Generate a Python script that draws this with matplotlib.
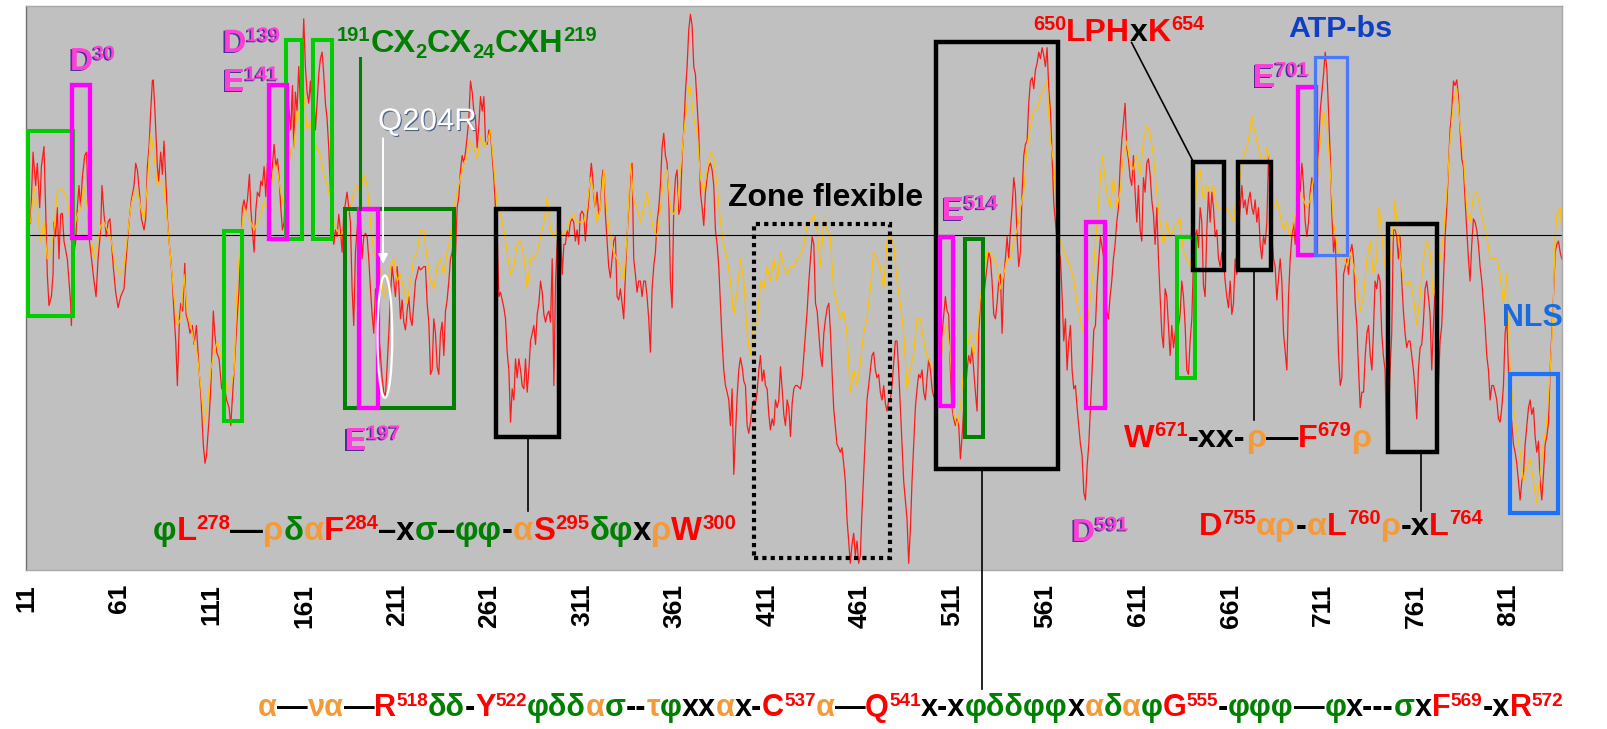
import matplotlib
matplotlib.use("Agg")
import matplotlib.pyplot as plt
import matplotlib.patheffects as pe
from matplotlib.patches import Rectangle, Ellipse
from matplotlib.transforms import IdentityTransform

plt.rcParams['font.family'] = ['Liberation Sans', 'DejaVu Sans']

# hydrophobicity profile, red curve (residue number, score)
red_pos = [
    12.5, 13.4, 14.7, 16.1, 17.0, 18.3, 19.2, 20.6, 21.5, 22.4,
    23.3, 24.6, 25.5, 26.0, 26.9, 27.8, 28.7, 29.6, 30.5, 31.4,
    33.2, 35.0, 35.4, 36.4, 37.7, 38.6, 39.5, 40.4, 41.3, 42.6,
    43.6, 44.9, 46.7, 47.6, 48.7, 49.8, 51.2, 51.9, 53.0, 54.3,
    55.2, 56.2, 57.0, 58.0, 59.3, 60.6, 62.0, 63.8, 65.2, 66.5,
    67.8, 69.2, 70.1, 71.0, 72.1, 73.2, 74.6, 75.5, 76.4, 77.3,
    78.2, 79.1, 79.6, 80.5, 81.8, 82.5, 83.6, 84.5, 85.4, 86.5,
    87.2, 88.1, 89.0, 89.9, 90.8, 91.7, 92.6, 93.7, 94.4, 95.5,
    96.6, 97.3, 98.4, 99.4, 100.7, 101.6, 102.9, 104.3, 105.2, 106.6,
    107.5, 108.3, 109.7, 110.6, 112.0, 112.8, 113.8, 115.1, 116.5, 117.8,
    119.2, 120.5, 121.4, 123.2, 125.0, 125.9, 126.8, 127.7, 128.6, 129.5,
    130.4, 131.5, 132.2, 133.1, 134.0, 134.9, 135.8, 136.9, 137.6, 138.5,
    139.4, 140.3, 141.2, 142.1, 143.0, 144.8, 145.7, 146.6, 147.5, 148.4,
    149.3, 150.2, 151.1, 152.0, 152.9, 153.8, 154.7, 155.4, 156.3, 157.2,
    158.1, 159.0, 159.9, 160.8, 161.7, 162.6, 163.5, 164.4, 165.3, 166.2,
    167.1, 168.0, 168.9, 169.8, 170.7, 171.6, 172.5, 173.4, 174.3, 175.2,
    176.1, 177.0, 177.9, 178.8, 179.7, 180.6, 181.5, 182.4, 183.3, 184.2,
    185.1, 186.0, 186.9, 187.8, 188.7, 189.6, 190.5, 191.4, 192.3, 193.2,
    194.1, 195.0, 195.9, 196.8, 197.7, 198.6, 199.5, 200.4, 201.3, 202.2,
    203.1, 204.0, 204.9, 205.8, 206.7, 207.6, 208.5, 209.4, 210.3, 211.2,
    212.1, 213.0, 213.9, 214.8, 215.7, 216.6, 217.5, 218.4, 219.3, 220.2,
    221.1, 222.0, 222.9, 223.8, 225.6, 226.5, 227.4, 228.3, 229.2, 230.1,
    231.0, 231.9, 232.8, 233.7, 234.6, 235.5, 236.4, 237.3, 238.2, 239.1,
    240.0, 240.9, 241.8, 242.7, 243.6, 244.5, 245.4, 246.3, 247.2, 248.1,
    249.0, 249.9, 250.8, 251.7, 252.6, 253.5, 254.4, 255.3, 256.2, 257.1,
    258.0, 258.9, 259.8, 260.7, 261.6, 262.5, 263.4, 264.3, 265.2, 266.1,
    267.0, 268.8, 269.7, 270.6, 271.5, 272.4, 273.3, 274.2, 275.1, 276.0,
    276.9, 277.8, 278.7, 279.6, 280.5, 281.4, 282.3, 283.2, 284.1, 285.0,
    285.9, 286.8, 287.7, 288.6, 289.5, 290.4, 291.3, 292.2, 293.1, 294.0,
    294.9, 295.8, 296.7, 297.6, 298.5, 299.4, 300.3, 301.2, 302.0, 302.9,
    303.8, 304.7, 305.6, 306.5, 307.4, 308.3, 309.2, 310.1, 311.0, 311.9,
    312.8, 313.7, 314.6, 315.5, 316.0, 316.8, 317.3, 318.2, 319.1, 320.0,
    320.9, 321.8, 322.3, 323.1, 323.6, 324.5, 325.4, 326.3, 327.2, 328.1,
    329.0, 329.9, 330.8, 331.7, 332.6, 333.5, 334.4, 335.3, 336.2, 337.1,
    338.0, 338.9, 339.8, 340.7, 341.6, 342.5, 343.4, 344.3, 345.2, 346.1,
    347.0, 347.9, 348.8, 349.7, 350.6, 351.5, 352.4, 353.3, 354.2, 355.1,
    356.0, 356.9, 357.8, 358.7, 359.6, 360.5, 361.4, 362.3, 363.2, 364.1,
    365.0, 365.9, 366.8, 367.7, 368.6, 369.5, 370.4, 371.3, 372.2, 373.1,
    374.0, 374.9, 375.8, 376.7, 377.6, 378.5, 379.4, 380.3, 381.2, 382.1,
    383.0, 383.9, 384.8, 385.7, 386.6, 387.5, 388.4, 389.3, 390.2, 391.1,
    392.0, 392.9, 393.8, 394.7, 395.6, 396.5, 397.4, 398.3, 399.2, 400.1,
    401.0, 401.9, 402.8, 403.7, 404.6, 405.5, 406.4, 407.3, 408.2, 409.1,
    410.0, 410.9, 411.8, 412.7, 413.6, 414.5, 415.4, 416.3, 417.2, 418.1,
    419.0, 419.9, 420.8, 421.7, 422.6, 423.5, 424.4, 425.3, 426.2, 427.1,
    428.9, 429.8, 430.7, 431.6, 432.5, 433.4, 434.3, 435.2, 436.1, 437.0,
    437.9, 438.8, 439.7, 440.6, 441.5, 442.4, 443.3, 444.2, 445.1, 445.9,
    446.8, 447.7, 448.6, 449.5, 450.4, 451.3, 452.2, 453.1, 454.0, 454.9,
    455.8, 456.7, 457.6, 458.5, 459.4, 460.3, 461.2, 462.1, 463.0, 463.9,
    464.8, 465.7, 466.6, 467.5, 468.4, 469.3, 470.2, 471.1, 472.0, 472.9,
    473.8, 474.7, 475.6, 476.5, 477.4, 478.3, 479.2, 480.1, 481.0, 481.9,
    482.8, 483.7, 484.6, 485.5, 486.4, 487.3, 488.2, 489.1, 490.0, 490.9,
    491.8, 492.7, 493.6, 494.5, 495.4, 496.3, 497.2, 498.1, 499.0, 499.9,
    500.8, 501.7, 502.6, 503.5, 504.4, 505.3, 506.2, 507.1, 508.0, 508.9,
    509.8, 510.7, 511.6, 512.5, 513.4, 514.3, 515.2, 516.1, 517.0, 517.9,
    518.8, 519.7, 520.6, 521.5, 522.4, 523.3, 524.2, 525.1, 526.0, 526.9,
    527.8, 528.7, 529.6, 530.5, 531.4, 532.3, 533.2, 534.1, 535.0, 535.9,
    536.8, 537.7, 538.6, 539.5, 540.4, 541.3, 542.2, 543.1, 544.0, 544.9,
    545.8, 546.7, 547.6, 548.5, 549.4, 550.3, 551.2, 552.1, 553.0, 553.9,
    554.8, 555.7, 556.6, 557.5, 558.4, 559.3, 560.2, 561.1, 562.0, 562.9,
    563.8, 564.7, 565.6, 567.4, 569.2, 570.1, 571.0, 571.9, 572.8, 573.7,
    574.6, 575.5, 576.4, 577.3, 578.2, 579.1, 580.0, 580.9, 581.8, 582.7,
    583.6, 584.5, 585.4, 586.3, 587.2, 588.1, 589.0, 589.9, 590.8, 593.3,
    594.2, 595.1, 596.0, 596.9, 597.8, 598.7, 599.6, 600.5, 601.4, 602.3,
    603.2, 604.1, 605.0, 605.9, 606.8, 607.7, 608.6, 609.5, 610.4, 611.3,
    612.2, 613.1, 614.0, 614.9, 615.8, 616.7, 617.6, 618.5, 619.4, 620.3,
    621.2, 622.1, 623.0, 623.9, 624.8, 625.7, 626.6, 627.5, 628.4, 629.3,
    630.2, 631.1, 632.0, 632.9, 633.8, 634.7, 635.6, 636.5, 637.4, 638.3,
    639.2, 640.1, 641.0, 641.9, 642.8, 643.7, 644.6, 645.5, 646.4, 647.3,
    648.2, 649.1, 650.0, 650.9, 651.8, 652.7, 653.6, 654.5, 655.4, 656.3,
    657.2, 658.1, 659.0, 659.9, 660.8, 661.7, 662.6, 663.5, 664.4, 665.3,
    666.2, 667.1, 668.0, 668.9, 669.8, 670.7, 671.6, 672.5, 673.4, 674.3,
    675.2, 676.1, 677.0, 677.9, 678.8, 679.7, 680.6, 681.5, 682.4, 683.3,
    684.2, 685.1, 686.0, 686.9, 687.8, 688.7, 689.6, 690.5, 691.4, 692.3,
    693.2, 694.1, 695.0, 695.9, 696.8, 697.7, 698.6, 699.5, 700.4, 701.3,
    702.2, 703.1, 704.0, 704.9, 705.8, 706.7, 707.6, 708.5, 709.4, 710.3,
    711.2, 712.1, 713.0, 713.9, 714.8, 715.7, 716.6, 717.5, 718.4, 719.3,
    720.2, 721.1, 722.0, 722.9, 723.8, 724.7, 725.6, 726.5, 727.4, 728.3,
    729.2, 730.1, 731.0, 731.9, 732.8, 733.7, 734.6, 735.5, 736.4, 737.3,
    738.1, 739.0, 739.9, 740.8, 741.7, 742.6, 743.5, 744.4, 745.3, 746.2,
    747.1, 748.0, 748.9, 749.8, 750.7, 751.6, 752.5, 753.4, 754.3, 755.2,
    756.1, 757.0, 757.9, 758.8, 759.7, 760.6, 761.5, 762.4, 763.3, 764.2,
    765.1, 766.0, 766.9, 767.8, 768.7, 769.6, 770.5, 771.4, 772.3, 773.2,
    774.1, 775.0, 775.9, 776.8, 777.7, 778.6, 779.5, 780.4, 781.3, 782.2,
    783.1, 784.0, 784.9, 785.8, 786.7, 787.6, 788.5, 789.4, 790.3, 791.2,
    792.1, 793.0, 793.9, 794.8, 795.7, 796.6, 797.5, 798.4, 799.3, 800.2,
    801.1, 802.0, 802.9, 803.8, 804.7, 805.6, 806.5, 807.4, 808.3, 809.2,
    810.1, 811.0, 811.9, 812.8, 813.7, 814.6, 815.5, 816.4, 817.3, 818.2,
    819.1, 820.0, 820.9, 821.8, 822.7, 823.6, 824.5, 825.4, 826.3, 827.2,
    828.1, 829.0, 829.9, 830.8, 831.7, 832.6, 833.5, 834.4, 835.3, 836.2,
    837.1, 838.0, 838.9, 839.8,
]
red_val = [
    0.09, 0.12, 0.75, 0.45, 0.65, 0.25, 0.62, 0.80, 0.25, -0.35,
    -0.63, -0.55, -0.35, 0.12, -0.01, 0.25, -0.21, 0.19, 0.20, -0.05,
    -0.21, -0.61, -0.81, -0.21, -0.05, 0.25, 0.45, 0.25, 0.52, 0.72,
    0.75, -0.01, -0.28, -0.41, -0.55, -0.21, 0.05, 0.45, 0.19, -0.01,
    0.12, 0.15, -0.05, -0.28, -0.51, -0.65, -0.55, -0.48, -0.15, 0.12,
    0.32, 0.45, 0.65, 0.59, 0.39, 0.15, 0.05, 0.15, 0.62, 0.79,
    1.12, 1.39, 1.40, 1.12, 0.62, 0.49, 0.75, 0.55, 0.85, 0.45,
    0.15, -0.05, -0.21, -0.41, -0.71, -0.95, -1.35, -0.75, -0.61, -0.68,
    -0.25, -0.71, -0.78, -0.88, -0.81, -0.98, -0.81, -1.21, -1.41, -1.88,
    -2.05, -1.98, -1.65, -1.38, -0.68, -0.88, -1.05, -1.11, -1.38, -1.35,
    -1.48, -1.55, -1.71, -1.21, -0.71, -0.48, -0.08, 0.25, 0.32, 0.22,
    0.32, 0.55, 0.25, 0.05, -0.15, 0.22, 0.39, 0.35, 0.49, 0.45,
    0.62, 0.35, 0.65, 0.52, 0.45, 0.82, 0.62, 0.69, 0.52, 0.25,
    0.05, 0.12, 0.45, 1.32, 1.12, 0.95, 1.35, 0.79, 1.29, 1.12,
    1.52, 1.19, 1.45, 1.95, 1.52, 1.29, 1.19, 1.39, 1.12, 1.29,
    0.95, 1.19, 1.45, 1.59, 1.65, 1.45, 1.19, 1.05, 0.79, 0.39,
    0.12, -0.08, 0.05, -0.01, 0.19, 0.05, -0.15, 0.19, 0.29, 0.39,
    0.25, 0.12, -0.48, -0.81, -0.15, 0.05, 0.25, 0.19, -0.21, -0.01,
    0.02, -0.01, -0.21, -0.48, -0.71, -0.88, -0.48, -0.55, -0.88, -1.08,
    -1.28, -1.41, -1.45, -1.18, -0.88, -0.55, -0.28, -0.41, -0.55, -0.28,
    -0.45, -0.75, -0.58, -0.78, -0.85, -0.68, -0.55, -0.75, -0.81, -0.61,
    -0.41, -0.35, -0.28, -0.31, -0.28, -0.28, -0.61, -0.78, -1.25, -1.21,
    -0.75, -0.88, -1.18, -1.25, -0.88, -0.78, -1.08, -0.68, -0.58, -0.41,
    -0.21, -0.15, -0.01, -0.18, 0.25, 0.35, 0.59, 0.72, 0.65, 0.75,
    0.89, 1.05, 1.39, 1.29, 1.12, 1.05, 0.79, 0.99, 1.25, 1.12,
    1.25, 0.85, 0.82, 0.95, 0.92, 0.72, 0.52, 0.25, 0.02, -0.55,
    -0.51, -0.65, -0.75, -1.05, -1.21, -1.68, -1.38, -1.48, -1.11, -1.28,
    -1.11, -1.21, -1.35, -1.38, -1.11, -1.41, -1.21, -0.95, -0.88, -0.81,
    -0.98, -0.71, -0.61, -0.41, -0.51, -0.71, -0.78, -0.71, -0.68, -0.78,
    -0.21, -1.35, -0.41, -0.05, -0.01, 0.05, -0.35, -0.08, -0.08, 0.05,
    -0.01, 0.12, 0.15, 0.12, -0.05, 0.05, -0.08, 0.19, 0.22, 0.19,
    -0.05, 0.15, 0.32, 0.55, 0.65, 0.52, 0.35, 0.25, 0.39, 0.19,
    0.25, 0.52, 0.59, 0.52, 0.19, -0.05, -0.28, -0.38, -0.21, -0.05,
    -0.01, -0.55, -0.58, -0.48, -0.61, -0.75, -0.35, -0.01, 0.25, 0.55,
    0.65, -0.21, -0.35, -0.51, -0.41, -0.41, -0.55, -0.41, -0.41, -0.55,
    -0.75, -1.05, -0.48, -0.28, -0.15, 0.12, 0.25, 0.45, 0.79, 0.92,
    0.72, 0.65, 0.35, -0.41, -0.65, 0.25, 0.52, 0.59, 0.19, 0.25,
    0.72, 0.95, 1.29, 1.52, 1.85, 1.99, 1.89, 1.52, 1.45, 1.19,
    0.92, 0.39, 0.25, 0.09, 0.39, 0.52, 0.62, 0.65, 0.59, 0.45,
    0.05, -0.08, -0.28, -0.61, -0.95, -1.21, -1.35, -1.41, -1.48, -1.71,
    -1.38, -2.15, -1.81, -1.45, -1.21, -1.10, -1.18, -1.31, -1.35, -1.71,
    -1.78, -1.68, -1.55, -1.48, -1.51, -1.41, -1.21, -1.08, -1.31, -1.21,
    -1.35, -1.38, -1.61, -1.75, -1.65, -1.71, -1.48, -1.55, -1.48, -1.18,
    -1.38, -1.61, -1.71, -1.48, -1.55, -1.81, -1.51, -1.38, -1.35, -1.35,
    -1.38, -1.28, -1.08, -0.88, -0.68, -0.41, -0.21, -0.01, -0.08, -0.61,
    -0.68, -0.88, -1.08, -1.18, -0.88, -0.75, -0.65, -0.61, -0.88, -1.21,
    -1.55, -1.71, -1.88, -1.91, -1.95, -1.91, -2.05, -2.21, -2.55, -2.75,
    -2.95, -2.78, -2.68, -2.88, -2.75, -2.95, -2.88, -2.48, -2.15, -1.81,
    -1.48, -1.35, -1.21, -1.08, -1.05, -1.21, -1.28, -1.25, -1.41, -1.48,
    -1.35, -1.51, -1.58, -1.48, -1.48, -1.35, -1.15, -0.95, -0.95, -1.21,
    -1.55, -1.88, -2.21, -2.38, -2.55, -2.95, -2.65, -2.21, -1.88, -1.55,
    -1.38, -1.25, -1.28, -1.21, -1.41, -1.48, -1.28, -1.11, -1.21, -1.38,
    -1.45, -1.41, -1.21, -1.15, -1.05, -0.88, -0.71, -0.55, -0.68, -0.71,
    -1.21, -1.55, -1.65, -1.71, -1.65, -1.71, -2.01, -1.81, -1.55, -1.41,
    -1.21, -1.08, -1.15, -1.01, -1.21, -1.41, -1.58, -0.88, -0.61, -0.48,
    -0.55, -0.41, -0.28, -0.15, -0.21, -0.41, -0.71, -0.75, -0.61, -0.41,
    -0.35, -0.88, -0.38, -0.21, -0.01, -0.21, 0.05, 0.25, 0.52, 0.39,
    -0.01, -0.28, -0.15, 0.39, 0.72, 0.82, 0.85, 1.19, 1.39, 1.42,
    1.32, 1.49, 1.55, 1.65, 1.59, 1.69, 1.62, 1.52, 1.69, 1.32,
    1.12, 0.72, 0.29, -0.05, -0.21, -0.55, -0.95, -0.75, -1.21, -0.95,
    -0.81, -1.21, -1.38, -1.35, -1.55, -1.71, -1.88, -1.98, -2.31, -2.38,
    -2.08, -1.88, -1.55, -1.21, -0.85, -0.81, -0.45, -0.21, -0.01, -0.28,
    -0.68, -0.75, -0.55, -0.41, -0.21, -0.08, 0.12, 0.25, 0.62, 0.85,
    1.02, 1.19, 0.79, 0.69, 0.52, 0.45, 0.72, 0.39, 0.12, 0.45,
    0.05, -0.05, 0.52, 0.39, 0.65, 0.69, 0.55, 0.32, 0.19, -0.08,
    0.25, -0.21, -0.55, -0.88, -1.01, -0.48, -0.55, -0.81, -1.08, -0.81,
    -1.01, -0.88, -0.75, -0.81, -0.71, -0.41, -0.55, -0.81, -1.21, -1.25,
    -0.95, -0.75, -0.21, -0.01, 0.05, -0.11, 0.25, 0.12, -0.45, -0.55,
    0.05, 0.39, 0.12, 0.39, 0.25, -0.01, 0.05, -0.21, -0.28, -0.15,
    -0.21, -0.41, -0.55, -0.65, -0.41, -0.71, -0.61, -0.21, -0.35, 0.05,
    0.25, 0.45, 0.25, 0.32, 0.19, 0.32, 0.39, 0.25, 0.19, 0.32,
    0.12, 0.25, -0.08, -0.21, -0.01, -0.08, 0.12, 0.72, 0.39, -0.01,
    -0.21, -0.28, -0.58, -0.38, -0.21, -0.41, -0.88, -1.05, -1.21, -0.55,
    -0.21, -0.01, 0.12, -0.08, 0.25, 0.39, 0.39, 0.65, 0.45, 0.12,
    -0.01, 0.12, 0.39, 0.52, 0.45, 0.12, 0.39, 0.79, 1.12, 1.29,
    1.45, 1.65, 1.49, 1.12, 0.72, 0.19, -0.15, -0.01, -0.55, -1.08,
    -1.35, -1.28, -0.35, -0.28, -0.21, -0.35, -0.15, -0.08, -0.21, -0.61,
    -0.81, -1.21, -1.55, -1.41, -1.41, -1.08, -0.88, -0.81, -1.08, -1.21,
    -0.88, -0.41, -0.48, -0.35, -0.41, -0.88, -1.08, -1.21, -1.88, -1.71,
    -1.21, -0.88, 0.05, 0.05, -0.01, -0.21, -0.01, -0.41, -0.68, -0.88,
    -1.01, -0.95, -0.95, -1.08, -1.21, -1.38, -1.65, -1.21, -1.01, -0.98,
    -0.78, -0.48, -0.41, -0.55, -0.71, -1.21, -0.81, -0.48, -0.81, -1.35,
    -0.95, -0.81, -0.41, -0.01, 0.25, 0.62, 0.95, 1.12, 1.39, 1.35,
    1.40, 1.25, 0.95, 0.69, 0.62, 0.32, 0.05, -0.21, -0.41, -0.08,
    0.15, 0.12, 0.05, -0.08, -0.28, -0.41, -0.61, -0.81, -1.08, -1.21,
    -1.48, -1.35, -1.35, -1.41, -1.48, -1.65, -1.68, -1.55, -1.35, -0.88,
    -0.75, -1.21, -1.55, -1.68, -1.88, -1.95, -2.05, -2.21, -2.38, -2.21,
    -2.15, -1.88, -1.71, -1.55, -1.48, -1.61, -1.55, -1.81, -1.95, -1.85,
    -2.21, -2.38, -2.15, -1.88, -1.81, -1.68, -1.21, -0.88, -0.55, -0.15,
    -0.08, -0.05, -0.15, -0.21,
]

# smoothed profile, yellow curve
yellow_pos = [
    13.4, 15.2, 17.0, 18.8, 20.6, 22.4, 24.2, 26.0, 27.8, 29.6,
    31.4, 33.2, 35.0, 36.8, 38.6, 40.4, 42.2, 44.0, 45.8, 47.6,
    49.4, 51.2, 53.0, 54.8, 56.6, 58.4, 60.2, 62.0, 63.8, 65.6,
    67.4, 69.2, 71.0, 72.8, 74.6, 76.4, 78.2, 80.0, 81.8, 83.6,
    85.4, 87.2, 89.0, 90.8, 92.6, 94.4, 96.2, 98.0, 99.8, 101.6,
    103.4, 105.2, 107.0, 108.8, 110.6, 112.4, 114.2, 116.0, 117.8, 119.6,
    121.4, 123.2, 125.0, 126.8, 128.6, 130.4, 132.2, 134.0, 135.8, 137.6,
    139.4, 141.2, 143.0, 144.8, 146.6, 148.4, 150.2, 152.0, 153.8, 155.4,
    157.2, 159.0, 160.8, 162.6, 164.4, 166.2, 168.0, 169.8, 171.6, 173.4,
    175.2, 177.0, 178.8, 180.6, 182.4, 184.2, 186.0, 187.8, 189.6, 191.4,
    193.2, 195.0, 196.8, 198.6, 200.4, 202.2, 204.0, 205.8, 207.6, 209.4,
    211.2, 213.0, 214.8, 216.6, 218.4, 220.2, 222.0, 223.8, 225.6, 227.4,
    229.2, 231.0, 232.8, 234.6, 236.4, 238.2, 240.0, 241.8, 243.6, 245.4,
    247.2, 249.0, 250.8, 252.6, 254.4, 256.2, 258.0, 259.8, 261.6, 263.4,
    265.2, 267.0, 268.8, 270.6, 272.4, 274.2, 276.0, 277.8, 279.6, 281.4,
    283.2, 285.0, 286.8, 288.6, 290.4, 292.2, 294.0, 295.8, 297.6, 299.4,
    302.9, 304.7, 306.5, 308.3, 310.1, 311.9, 313.7, 315.5, 317.3, 319.1,
    320.9, 322.7, 324.5, 326.3, 328.1, 329.9, 331.7, 333.5, 335.3, 337.1,
    338.9, 340.7, 342.5, 344.3, 346.1, 347.9, 349.7, 351.5, 353.3, 355.1,
    356.9, 358.7, 360.5, 362.3, 364.1, 365.9, 367.7, 368.6, 369.5, 371.3,
    373.1, 374.9, 376.7, 378.5, 380.3, 382.1, 383.9, 385.7, 387.5, 389.3,
    391.1, 392.9, 394.7, 396.5, 398.3, 400.1, 401.9, 403.7, 405.5, 407.3,
    409.1, 410.9, 412.7, 414.5, 416.3, 418.1, 419.9, 421.7, 423.5, 425.3,
    427.1, 428.9, 430.7, 432.5, 434.3, 436.1, 437.9, 439.7, 441.5, 443.3,
    445.0, 446.8, 448.6, 450.4, 452.2, 454.0, 455.8, 457.6, 459.4, 461.2,
    463.0, 464.8, 466.6, 468.4, 470.2, 472.0, 473.8, 475.6, 477.4, 479.2,
    481.0, 482.8, 484.6, 486.4, 488.2, 490.0, 491.8, 493.6, 495.4, 497.2,
    499.0, 500.8, 502.6, 504.4, 506.2, 508.0, 509.8, 511.6, 513.4, 515.2,
    517.0, 518.8, 520.6, 522.4, 524.2, 526.0, 527.8, 529.6, 531.4, 533.2,
    535.0, 536.8, 538.6, 540.4, 542.2, 544.0, 545.8, 547.6, 549.4, 551.2,
    553.0, 554.8, 556.6, 558.4, 560.2, 562.0, 563.8, 565.6, 567.4, 569.2,
    571.0, 572.8, 574.6, 576.4, 578.2, 580.0, 581.8, 583.6, 585.4, 587.2,
    589.0, 590.8, 591.7, 592.4, 594.2, 596.0, 597.8, 599.6, 601.4, 603.2,
    605.0, 606.8, 608.6, 610.4, 612.2, 614.0, 615.8, 617.6, 619.4, 621.2,
    623.0, 624.8, 626.6, 628.4, 630.2, 632.0, 633.8, 635.6, 637.4, 639.2,
    641.0, 642.8, 644.6, 646.4, 648.2, 650.0, 651.8, 653.6, 655.4, 657.2,
    659.0, 660.8, 662.6, 664.4, 666.2, 668.0, 669.8, 671.6, 672.5, 673.4,
    675.2, 677.0, 678.8, 680.6, 682.4, 684.2, 686.0, 687.8, 689.6, 691.4,
    693.2, 695.0, 696.8, 698.6, 700.4, 702.2, 704.0, 705.8, 707.6, 709.4,
    711.2, 713.0, 714.8, 716.6, 718.4, 720.2, 722.0, 723.8, 725.6, 727.4,
    729.2, 731.0, 732.8, 734.6, 736.4, 738.1, 739.9, 740.8, 741.7, 743.5,
    745.3, 747.1, 748.9, 749.8, 750.7, 752.5, 754.3, 756.1, 757.9, 759.7,
    761.5, 763.3, 765.1, 766.9, 768.7, 770.5, 772.3, 774.1, 775.9, 777.7,
    779.5, 781.3, 783.1, 784.9, 786.7, 788.5, 790.3, 792.1, 793.9, 795.7,
    797.5, 799.3, 801.1, 802.9, 804.7, 806.5, 808.3, 810.1, 811.9, 813.7,
    815.5, 817.3, 819.1, 820.9, 822.7, 824.5, 826.3, 828.1, 829.9, 831.7,
    833.5, 834.4, 835.3, 836.2, 837.1, 838.9, 839.8,
]
yellow_val = [
    0.12, 0.45, 0.25, -0.05, 0.12, -0.21, -0.15, 0.05, 0.39, 0.42,
    0.39, 0.32, 0.12, 0.05, 0.19, 0.25, 0.45, 0.25, -0.01, -0.21,
    -0.08, 0.09, 0.12, 0.05, -0.01, -0.21, -0.31, -0.35, -0.28, -0.01,
    0.25, 0.39, 0.42, 0.25, 0.15, 0.45, 0.92, 0.72, 0.45, 0.49,
    0.45, 0.12, -0.21, -0.55, -0.81, -0.75, -0.35, -0.71, -0.81, -0.95,
    -1.08, -1.35, -1.68, -1.55, -1.21, -1.05, -0.95, -1.08, -1.21, -1.41,
    -1.38, -1.21, -0.41, -0.01, 0.25, 0.19, 0.12, 0.05, 0.12, 0.19,
    0.32, 0.25, 0.39, 0.65, 0.59, 0.39, 0.25, 0.45, 0.79, 0.79,
    1.12, 1.05, 1.29, 0.95, 1.02, 0.85, 0.79, 0.72, 0.55, 0.45,
    0.32, 0.12, 0.05, -0.01, 0.05, 0.19, 0.25, 0.39, 0.45, 0.39,
    0.55, 0.45, 0.12, -0.15, -0.21, -0.31, -0.55, -0.48, -0.28, -0.21,
    -0.41, -0.35, -0.48, -0.61, -0.41, -0.21, -0.15, 0.05, 0.05, -0.21,
    -0.41, -0.48, -0.28, -0.21, -0.35, -0.15, -0.01, 0.25, 0.39, 0.52,
    0.65, 0.72, 0.85, 0.79, 0.69, 0.89, 0.79, 0.85, 0.95, 0.62,
    0.25, 0.19, 0.05, -0.15, -0.35, -0.28, -0.08, -0.05, -0.18, -0.48,
    -0.21, -0.21, -0.15, -0.01, 0.12, 0.35, 0.05, -0.01, 0.05, -0.01,
    0.05, 0.15, 0.19, 0.12, 0.12, 0.12, 0.25, 0.52, 0.39, 0.12,
    0.25, 0.59, 0.19, -0.01, -0.15, -0.21, -0.28, -0.41, -0.01, 0.65,
    0.32, 0.25, 0.12, 0.25, 0.39, 0.19, 0.05, -0.01, 0.25, 0.52,
    0.59, 0.25, 0.19, 0.25, 0.59, 0.92, 1.19, 1.35, 1.32, 1.05,
    0.92, 0.52, 0.39, 0.59, 0.75, 0.69, 0.45, 0.12, -0.08, -0.21,
    -0.41, -0.71, -0.51, -0.21, -0.41, -0.88, -1.08, -0.75, -0.81, -0.41,
    -0.48, -0.28, -0.41, -0.21, -0.41, -0.15, -0.28, -0.35, -0.28, -0.28,
    -0.21, -0.18, -0.08, 0.09, 0.12, 0.19, 0.05, -0.28, 0.15, 0.05,
    -0.01, -0.48, -0.61, -0.75, -0.68, -0.88, -1.41, -1.21, -1.35, -1.15,
    -0.88, -0.75, -0.48, -0.15, -0.21, -0.28, -0.48, -0.05, -0.01, -0.08,
    -0.41, -0.61, -0.88, -1.38, -1.21, -1.05, -0.75, -0.75, -0.95, -1.08,
    -1.15, -1.21, -1.08, -1.21, -0.88, -0.81, -1.08, -1.61, -1.71, -1.55,
    -1.21, -1.01, -0.88, -1.08, -0.88, -0.55, -0.41, -0.15, -0.15, -0.21,
    -0.28, -0.48, -0.35, -0.21, -0.21, -0.05, 0.05, 0.25, 0.39, 0.79,
    0.99, 1.12, 1.12, 1.25, 1.32, 1.39, 0.85, 0.65, 0.05, -0.05,
    -0.15, -0.21, -0.28, -0.41, -0.61, -0.75, -0.88, -0.81, -0.55, -0.28,
    0.12, 0.52, 0.72, 0.65, 0.39, 0.25, 0.52, 0.25, 0.39, 0.72,
    0.85, 0.65, 0.59, 0.72, 0.55, 0.85, 0.99, 0.92, 0.72, 0.39,
    0.12, -0.08, 0.12, -0.01, 0.05, 0.12, 0.15, -0.15, -0.21, -0.28,
    -0.08, 0.52, 0.59, 0.32, 0.45, 0.39, 0.45, 0.25, 0.25, 0.19,
    0.25, 0.19, 0.12, 0.39, 0.52, 0.72, 0.79, 0.95, 1.08, 0.99,
    0.85, 0.72, 0.65, 0.79, 0.65, 0.25, 0.32, 0.19, 0.05, 0.12,
    -0.01, 0.12, 0.25, 0.39, 0.32, 0.25, 0.32, 0.52, 0.45, 0.85,
    1.12, 0.99, 0.59, 0.12, -0.08, -0.21, -0.18, -0.28, -0.15, -0.28,
    -0.41, -0.68, -0.55, -0.21, -0.05, -0.35, -0.21, 0.25, 0.19, -0.15,
    -0.41, -0.21, 0.12, 0.32, 0.12, -0.15, -0.41, -0.45, -0.41, -0.55,
    -0.81, -0.55, -0.21, -0.05, -0.15, -0.55, -0.41, -0.21, -0.01, 0.39,
    0.85, 1.19, 1.32, 0.99, 0.72, 0.25, 0.12, 0.35, 0.39, 0.25,
    0.12, -0.01, -0.21, -0.21, -0.21, -0.35, -0.61, -0.35, -1.21, -1.55,
    -1.75, -1.95, -2.21, -2.08, -2.01, -2.21, -2.41, -2.15, -1.88, -1.68,
    -1.21, -0.95, -0.55, -0.01, 0.19, 0.25, 0.05,
]

tick_pos = [11, 61, 111, 161, 211, 261, 311, 361, 411, 461, 511, 561, 611, 661, 711, 761, 811]
tick_labels = [str(t) for t in tick_pos]

# annotated segments: first residue, last residue, lower and upper edge of the frame
lime_boxes = [(12.1, 36.5, -0.72, 0.94), (117.5, 127.5, -1.67, 0.04), (151.0, 159.9, -0.03, 1.76),
              (165.8, 176.1, -0.03, 1.76), (632.0, 642.0, -1.28, -0.01)]
darkgreen_boxes = [(182.8, 241.8, -1.55, 0.24), (517.5, 527.4, -1.81, -0.03)]
magenta_boxes = [(35.9, 45.4, -0.02, 1.35), (142.1, 151.5, -0.03, 1.35), (190.5, 200.8, -1.55, 0.24),
                 (504.4, 511.2, -1.53, -0.01), (583.2, 593.0, -1.55, 0.12), (697.2, 707.2, -0.18, 1.34)]
black_boxes = [(264.3, 298.5, -1.81, 0.24), (502.2, 567.8, -2.10, 1.74), (641.0, 657.6, -0.31, 0.66),
               (664.8, 682.8, -0.31, 0.66), (746.2, 772.7, -1.95, 0.10)]
atp_box = (706.7, 723.8, -0.18, 1.61)
nls_box = (811.9, 837.5, -2.50, -1.25)
flexible_zone = (403.7, 477.4, -2.90, 0.10)

W, H = 1608, 729
fig = plt.figure(figsize=(W / 100, H / 100), dpi=100)
ax = fig.add_axes([26 / W, 159 / H, 1536 / W, 564 / H])
ax.set_facecolor('#c0c0c0')

ax.plot(red_pos, red_val, color='#ff1a1a', lw=0.9, zorder=2)
ax.plot(yellow_pos, yellow_val, color='#ffc000', lw=0.9, zorder=2.1)
ax.axhline(0, color='black', lw=0.8, zorder=2.5)

ax.set_xlim(10.9, 839.9)
ax.set_ylim(-3.01, 2.065)
ax.set_xticks(tick_pos)
ax.set_xticklabels(tick_labels, rotation=90, fontsize=19, fontweight='bold')
ax.tick_params(axis='x', length=0, pad=10)
ax.set_yticks([])
for s in ax.spines.values():
    s.set_color('#a8a8a8')
    s.set_linewidth(1)
ax.spines['left'].set_color('#707070')


def frame(b, color, lw, ls='-'):
    x0, x1, y0, y1 = b
    ax.add_patch(Rectangle((x0, y0), x1 - x0, y1 - y0, fill=False, edgecolor=color,
                           lw=lw, ls=ls, joinstyle='miter', zorder=4))


for b in lime_boxes:
    frame(b, '#00cc00', 2.9)
for b in darkgreen_boxes:
    frame(b, '#008000', 2.9)
for b in black_boxes:
    frame(b, 'black', 3.2)
for b in magenta_boxes:
    frame(b, '#ff00ff', 3.1)
frame(atp_box, '#4a78ff', 2.3)
frame(nls_box, '#1a72ff', 3.0)
frame(flexible_zone, 'black', 3.0, ls=(0, (1, 1)))

# connector lines
ax.plot([191.4, 191.4], [0.24, 1.60], color='#008000', lw=2.2, zorder=4)
ax.plot([607.6, 641.0], [1.736, 0.66], color='black', lw=1.2, zorder=4)
ax.plot([673.8, 673.8], [-0.31, -1.66], color='black', lw=1.2, zorder=4)
ax.plot([281.8, 281.8], [-1.81, -2.48], color='black', lw=1.2, zorder=4)
ax.plot([763.7, 763.7], [-1.95, -2.48], color='black', lw=1.2, zorder=4)
ax.plot([526.9, 526.9], [-2.10, -4.08], color='black', lw=1.2, zorder=4, clip_on=False)

# Q204R mutation marker
ax.annotate('', xy=(203.6, -0.28), xytext=(203.6, 0.90),
            arrowprops=dict(arrowstyle='-|>', color='white', lw=1.4, mutation_scale=14), zorder=5)
ax.add_patch(Ellipse((204.6, -0.91), 8.0, 1.1, fill=False, edgecolor='white', lw=1.6, zorder=5))

renderer = fig.canvas.get_renderer()


def rich(x, y, pieces, width, effects=None, weight='bold'):
    # x, y: left end and baseline in output pixels, from the top-left corner
    def draw(size):
        out = []
        cx = x
        for s, c, kind in pieces:
            fs = size if kind == 'n' else size * 0.62
            dy = {'n': 0.0, 'sup': 0.33, 'sub': -0.17}[kind] * size * 100 / 72
            t = fig.text(cx, H - y + dy, s, color=c, fontsize=fs, fontweight=weight,
                         transform=IdentityTransform(), ha='left', va='baseline',
                         path_effects=effects, zorder=6)
            cx = t.get_window_extent(renderer).x1
            out.append(t)
        return out, cx - x

    size = 20.0
    for _ in range(2):
        texts, w = draw(size)
        for t in texts:
            t.remove()
        size = size * width / w
    draw(size)


RED, ORG, GRN, BLK = '#ff0000', '#f59a38', '#008000', 'black'
PINK = '#ff3fd8'
mag_fx = [pe.withSimplePatchShadow(offset=(-1.2, -0.7), shadow_rgbFace='#4b2f96', alpha=1.0)]

for letter, num, x, y, w in [('D', '30', 70, 70, 45), ('D', '139', 223, 52, 57), ('E', '141', 223, 91, 55),
                             ('E', '197', 345, 450, 55), ('E', '514', 942, 220, 56),
                             ('D', '591', 1072, 541, 56), ('E', '701', 1253, 87, 56)]:
    rich(x, y, [(letter, PINK, 'n'), (num, PINK, 'sup')], w, effects=mag_fx)

rich(337, 52, [('191', GRN, 'sup'), ('CX', GRN, 'n'), ('2', GRN, 'sub'), ('CX', GRN, 'n'),
               ('24', GRN, 'sub'), ('CXH', GRN, 'n'), ('219', GRN, 'sup')], 259)
rich(1033, 41, [('650', RED, 'sup'), ('LPH', RED, 'n'), ('x', BLK, 'n'), ('K', RED, 'n'),
                ('654', RED, 'sup')], 171)
rich(1288, 37, [('ATP-bs', '#0f3fc6', 'n')], 104)
rich(1502, 326, [('NLS', '#1a6ae0', 'n')], 61)
rich(728, 206, [('Zone flexible', BLK, 'n')], 195)
rich(378, 130, [('Q204R', 'white', 'n')], 99,
     effects=[pe.withSimplePatchShadow(offset=(0.8, -0.8), shadow_rgbFace='#3d5a8a', alpha=0.9)],
     weight='normal')

rich(153, 540, [('φ', GRN, 'n'), ('L', RED, 'n'), ('278', RED, 'sup'), ('—', BLK, 'n'),
                ('ρ', ORG, 'n'), ('δ', GRN, 'n'), ('α', ORG, 'n'), ('F', RED, 'n'), ('284', RED, 'sup'),
                ('–x', BLK, 'n'), ('σ', GRN, 'n'), ('–', BLK, 'n'), ('φφ', GRN, 'n'), ('-', BLK, 'n'),
                ('α', ORG, 'n'), ('S', RED, 'n'), ('295', RED, 'sup'), ('δφ', GRN, 'n'), ('x', BLK, 'n'),
                ('ρ', ORG, 'n'), ('W', RED, 'n'), ('300', RED, 'sup')], 584)
rich(1124, 447, [('W', RED, 'n'), ('671', RED, 'sup'), ('-xx-', BLK, 'n'), ('ρ', ORG, 'n'),
                 ('—', BLK, 'n'), ('F', RED, 'n'), ('679', RED, 'sup'), ('ρ', ORG, 'n')], 247)
rich(1199, 535, [('D', RED, 'n'), ('755', RED, 'sup'), ('αρ', ORG, 'n'), ('-', BLK, 'n'),
                 ('α', ORG, 'n'), ('L', RED, 'n'), ('760', RED, 'sup'), ('ρ', ORG, 'n'), ('-x', BLK, 'n'),
                 ('L', RED, 'n'), ('764', RED, 'sup')], 284)
rich(258, 716, [('α', ORG, 'n'), ('—', BLK, 'n'), ('να', ORG, 'n'), ('—', BLK, 'n'),
                ('R', RED, 'n'), ('518', RED, 'sup'), ('δδ', GRN, 'n'), ('-', BLK, 'n'),
                ('Y', RED, 'n'), ('522', RED, 'sup'), ('φδδ', GRN, 'n'), ('α', ORG, 'n'), ('σ', GRN, 'n'),
                ('--', BLK, 'n'), ('τ', ORG, 'n'), ('φ', GRN, 'n'), ('xx', BLK, 'n'), ('α', ORG, 'n'),
                ('x-', BLK, 'n'), ('C', RED, 'n'), ('537', RED, 'sup'), ('α', ORG, 'n'), ('—', BLK, 'n'),
                ('Q', RED, 'n'), ('541', RED, 'sup'), ('x-x', BLK, 'n'), ('φδδφφ', GRN, 'n'), ('x', BLK, 'n'),
                ('α', ORG, 'n'), ('δ', GRN, 'n'), ('α', ORG, 'n'), ('φ', GRN, 'n'),
                ('G', RED, 'n'), ('555', RED, 'sup'), ('-', BLK, 'n'), ('φφφ', GRN, 'n'), ('—', BLK, 'n'),
                ('φ', GRN, 'n'), ('x---', BLK, 'n'), ('σ', GRN, 'n'), ('x', BLK, 'n'),
                ('F', RED, 'n'), ('569', RED, 'sup'), ('-x', BLK, 'n'), ('R', RED, 'n'), ('572', RED, 'sup')],
     1308)

fig.savefig('out.png', dpi=100)
